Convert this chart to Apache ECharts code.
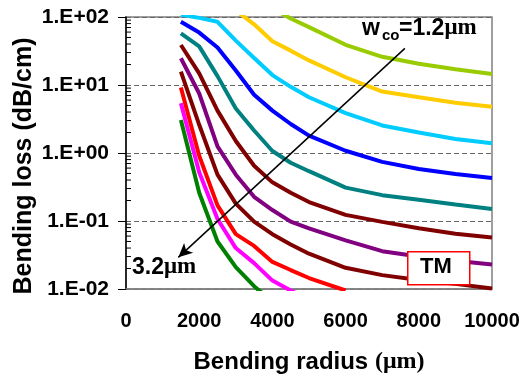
<!DOCTYPE html>
<html>
<head>
<meta charset="utf-8">
<script src="https://cdn.jsdelivr.net/npm/echarts@6/dist/echarts.min.js"></script>
<style>
html, body { margin: 0; padding: 0; background: #fff; }
#chart { width: 528px; height: 379px; }
</style>
</head>
<body>
<div id="chart"></div>
<script>
// bending radius (um)
var radius = [1500, 2000, 2500, 3000, 3500, 4000, 4500, 5000, 6000, 7000, 8000, 9000, 10000];

// bending loss (dB/cm), one array per core width w_co
var loss32 = [3.05, 0.26, 0.05, 0.021, 0.011, 0.0065, null, null, null, null, null, null, null];
var loss30 = [5.4, 0.52, 0.107, 0.04, 0.024, 0.0133, 0.0095, 0.007, null, null, null, null, null];
var loss28 = [9.2, 0.91, 0.17, 0.064, 0.043, 0.025, 0.019, 0.0145, 0.0095, null, null, null, null];
var loss26 = [15.7, 2.6, 0.48, 0.18, 0.098, 0.064, 0.045, 0.033, 0.0205, 0.016, 0.0136, 0.0119, 0.0102];
var loss24 = [24.7, 7.5, 1.25, 0.48, 0.227, 0.145, 0.098, 0.078, 0.052, 0.036, 0.030, 0.026, 0.023];
var loss22 = [38.7, 14.8, 4.2, 1.5, 0.65, 0.37, 0.26, 0.19, 0.123, 0.097, 0.078, 0.065, 0.057];
var loss20 = [57.5, 37, 13.5, 4.5, 2.14, 1.07, 0.72, 0.54, 0.31, 0.24, 0.205, 0.175, 0.15];
var loss18 = [85, 59, 35.6, 16.3, 7.2, 4.2, 2.67, 1.8, 1.08, 0.74, 0.58, 0.49, 0.43];
var loss16 = [108, 97, 85, 45, 25, 14, 9.4, 6.6, 3.85, 2.54, 2.0, 1.61, 1.39];
var loss14 = [null, null, null, 125, 78, 44, 32, 23, 13, 8.0, 6.6, 5.5, 4.8];
var loss12 = [null, null, null, null, null, 135, 95, 71, 39, 26, 20.5, 17, 14.5];

var curves = [loss32, loss30, loss28, loss26, loss24, loss22, loss20, loss18, loss16, loss14, loss12];
var widths = ['3.2', '3.0', '2.8', '2.6', '2.4', '2.2', '2.0', '1.8', '1.6', '1.4', '1.2'];
var colors = ['#008000', '#ff00ff', '#ff0000', '#800000', '#800080', '#800000',
              '#008080', '#0000ff', '#00ccff', '#ffcc00', '#99cc00'];

var lossMinorTicks = [
    0.02, 0.03, 0.04, 0.05, 0.06, 0.07, 0.08, 0.09,
    0.2, 0.3, 0.4, 0.5, 0.6, 0.7, 0.8, 0.9,
    2, 3, 4, 5, 6, 7, 8, 9,
    20, 30, 40, 50, 60, 70, 80, 90
];

var SANS = 'Liberation Sans, Arial, sans-serif';
var SERIF = 'Liberation Serif, Times New Roman, serif';

function sciLabel(v) {
    var e = Math.round(Math.log(v) / Math.LN10);
    var s = e < 0 ? '-' : '+';
    var a = Math.abs(e);
    return '1.E' + s + (a < 10 ? '0' + a : a);
}

var chart = echarts.init(document.getElementById('chart'), null, { renderer: 'canvas' });

var series = curves.map(function (arr, k) {
    return {
        name: widths[k],
        type: 'line',
        data: radius.map(function (x, i) { return [x, arr[i]]; }),
        symbol: 'none',
        smooth: false,
        clip: true,
        lineStyle: { color: colors[k], width: 4 },
        z: 3
    };
});

// log minor ticks, drawn inside the y axis
series.push({
    type: 'custom',
    silent: true,
    clip: false,
    z: 6,
    data: lossMinorTicks.map(function (v) { return [0, v]; }),
    renderItem: function (params, api) {
        var p = api.coord([0, api.value(1)]);
        return {
            type: 'line',
            shape: { x1: p[0], y1: p[1], x2: p[0] + 5, y2: p[1] },
            style: { stroke: '#000', lineWidth: 1 }
        };
    }
});

// arrow across the family of curves
series.push({
    type: 'line',
    data: [],
    z: 5,
    markLine: {
        silent: true,
        symbol: ['none', 'arrow'],
        symbolSize: [10, 14],
        label: { show: false },
        lineStyle: { color: '#000', width: 1.5, type: 'solid' },
        data: [[{ coord: [7620, 34.6] }, { coord: [1430, 0.0292] }]]
    }
});

var option = {
    animation: false,
    grid: {
        left: 126, right: 36, top: 17, bottom: 90,
        show: true, borderColor: '#808080', borderWidth: 1.5
    },
    xAxis: {
        type: 'value',
        min: 0, max: 10000, interval: 2000,
        name: '{a|Bending radius }{b|(μm)}',
        nameLocation: 'middle',
        nameGap: 61,
        nameTextStyle: {
            rich: {
                a: { fontFamily: SANS, fontWeight: 'bold', fontSize: 24, color: '#000' },
                b: { fontFamily: SERIF, fontWeight: 'bold', fontSize: 24, color: '#000' }
            }
        },
        axisLine: { lineStyle: { color: '#808080', width: 1.5 } },
        axisTick: { show: false },
        axisLabel: {
            margin: 22, fontFamily: SANS, fontWeight: 'bold', fontSize: 20, color: '#000',
            formatter: function (v) { return String(v); }
        },
        splitLine: { show: false }
    },
    yAxis: {
        type: 'log',
        logBase: 10,
        min: 0.01, max: 100,
        axisLine: { show: true, lineStyle: { color: '#000', width: 1.5 } },
        axisTick: { show: true, inside: false, length: 8, lineStyle: { color: '#000', width: 1 } },
        axisLabel: {
            margin: 17, fontFamily: SANS, fontWeight: 'bold', fontSize: 21, color: '#000',
            formatter: sciLabel
        },
        splitLine: { show: true, lineStyle: { color: '#666', width: 1, type: [5, 3] } }
    },
    graphic: [
        { type: 'text', x: 24, y: 166, rotation: Math.PI / 2, z: 10,
          style: { text: 'Bending loss (dB/cm)', fontFamily: SANS, fontWeight: 'bold', fontSize: 25,
                   fill: '#000', align: 'center', verticalAlign: 'middle' } },
        { type: 'text', left: 362, top: 17, z: 10,
          style: { text: 'w', fontFamily: SANS, fontWeight: 'bold', fontSize: 23, fill: '#000' } },
        { type: 'text', left: 382, top: 28, z: 10,
          style: { text: 'co', fontFamily: SANS, fontWeight: 'bold', fontSize: 15, fill: '#000' } },
        { type: 'text', left: 399, top: 17, z: 10,
          style: { text: '{a|=1.2}{b|μm}', fill: '#000',
                   rich: { a: { fontFamily: SANS, fontWeight: 'bold', fontSize: 23 },
                           b: { fontFamily: SERIF, fontWeight: 'bold', fontSize: 23 } } } },
        { type: 'text', left: 132, top: 256, z: 10,
          style: { text: '{a|3.2}{b|μm}', fill: '#000',
                   rich: { a: { fontFamily: SANS, fontWeight: 'bold', fontSize: 23 },
                           b: { fontFamily: SERIF, fontWeight: 'bold', fontSize: 23 } } } },
        { type: 'rect', left: 407, top: 251, z: 10,
          shape: { width: 62, height: 33 },
          style: { fill: '#fff', stroke: '#ff0000', lineWidth: 1.5 } },
        { type: 'text', left: 420, top: 256, z: 11,
          style: { text: 'TM', fontFamily: SANS, fontWeight: 'bold', fontSize: 22, fill: '#000' } }
    ],
    series: series
};

chart.setOption(option);
</script>
</body>
</html>
